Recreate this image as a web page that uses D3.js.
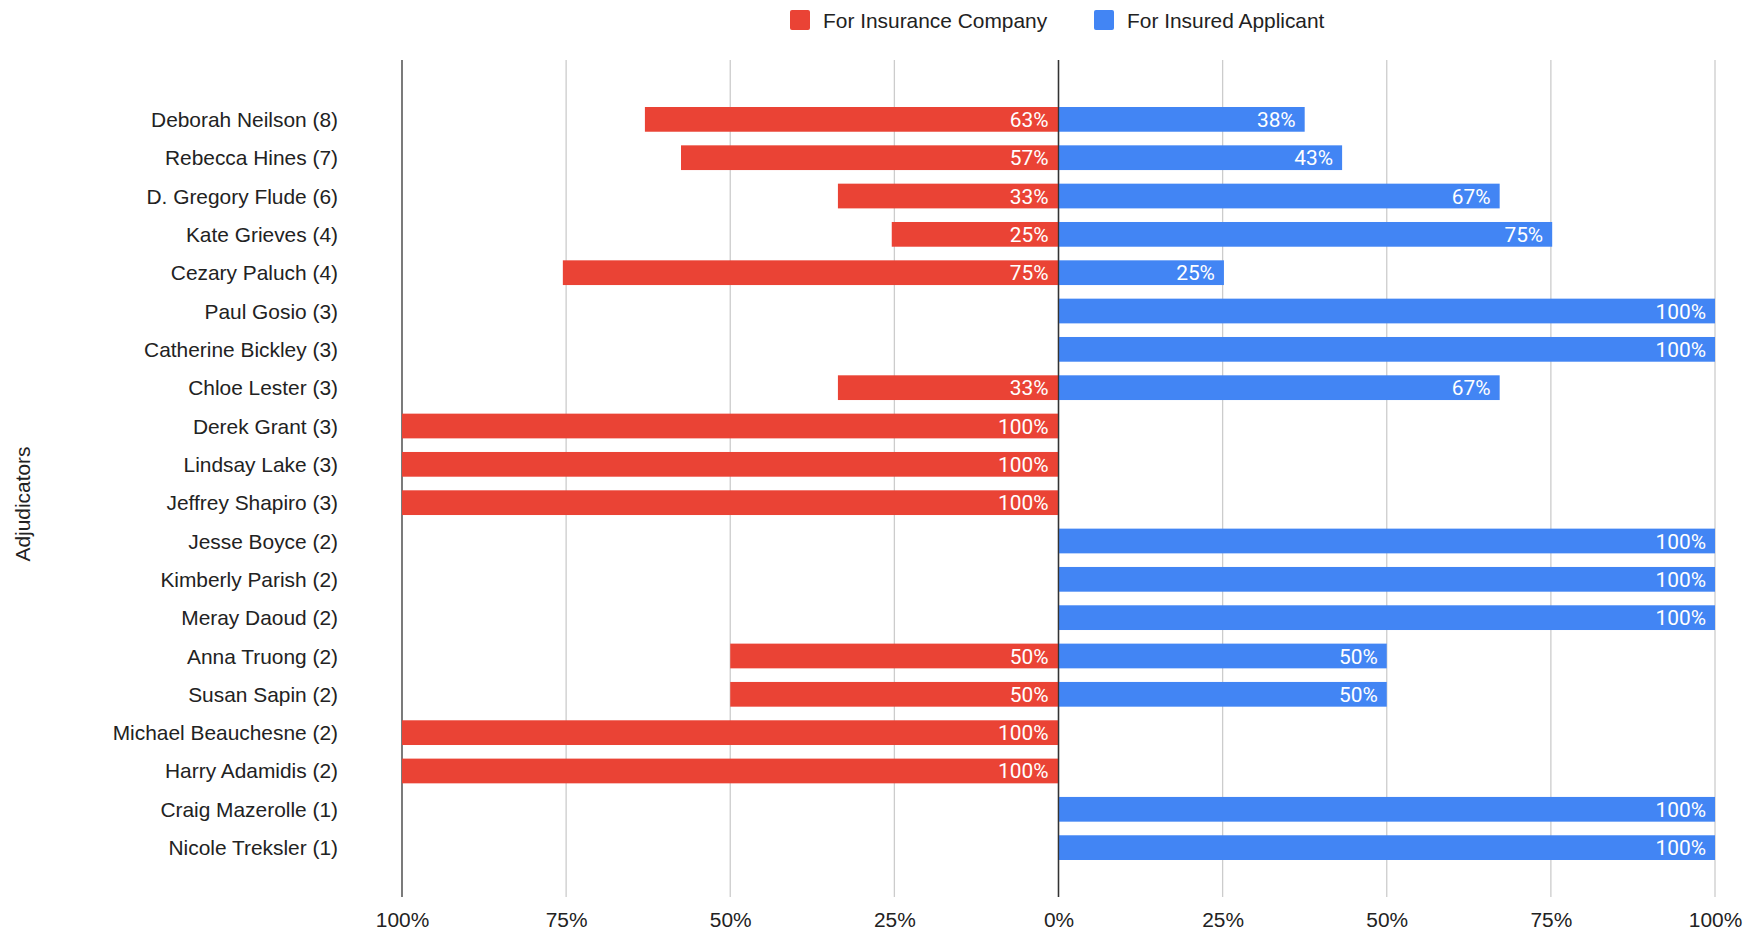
<!DOCTYPE html>
<html>
<head>
<meta charset="utf-8">
<script src="https://cdn.jsdelivr.net/npm/d3@7"></script>
<style>
  body { margin: 0; background: #fff; }
  svg { display: block; }
</style>
</head>
<body>
<svg id="chart" width="1759" height="933"></svg>
<script>
const adjudicators = ["Deborah Neilson (8)", "Rebecca Hines (7)", "D. Gregory Flude (6)", "Kate Grieves (4)",
  "Cezary Paluch (4)", "Paul Gosio (3)", "Catherine Bickley (3)", "Chloe Lester (3)", "Derek Grant (3)",
  "Lindsay Lake (3)", "Jeffrey Shapiro (3)", "Jesse Boyce (2)", "Kimberly Parish (2)", "Meray Daoud (2)",
  "Anna Truong (2)", "Susan Sapin (2)", "Michael Beauchesne (2)", "Harry Adamidis (2)",
  "Craig Mazerolle (1)", "Nicole Treksler (1)"];
// bar lengths
const forInsurer = [0.63, 0.575, 0.336, 0.254, 0.755, 0, 0, 0.336, 1, 1, 1, 0, 0, 0, 0.5, 0.5, 1, 1, 0, 0];
const forApplicant = [0.375, 0.432, 0.672, 0.752, 0.252, 1, 1, 0.672, 0, 0, 0, 1, 1, 1, 0.5, 0.5, 0, 0, 1, 1];
// value labels as printed on the bars
const insurerLabels = ["63%", "57%", "33%", "25%", "75%", "", "", "33%", "100%", "100%", "100%", "", "", "",
  "50%", "50%", "100%", "100%", "", ""];
const applicantLabels = ["38%", "43%", "67%", "75%", "25%", "100%", "100%", "67%", "", "", "", "100%", "100%",
  "100%", "50%", "50%", "", "", "100%", "100%"];
const tickValues = [-1, -0.75, -0.5, -0.25, 0, 0.25, 0.5, 0.75, 1];
const seriesNames = ["For Insurance Company", "For Insured Applicant"];
const colors = ["#EA4335", "#4285F4"];

const svg = d3.select("#chart");
const fontSize = "20.9px";
const textFont = "'Liberation Sans', Arial, sans-serif";

const x = d3.scaleLinear().domain([-1, 1]).range([402, 1715]);
const y = d3.scaleBand()
  .domain(adjudicators)
  .range([100.2, 866.8])
  .paddingInner(0.355)
  .paddingOuter(0.1775);

const gridTop = 60, gridBottom = 897;

// gridlines
svg.append("g")
  .selectAll("line")
  .data(tickValues)
  .join("line")
  .attr("x1", d => x(d))
  .attr("x2", d => x(d))
  .attr("y1", gridTop)
  .attr("y2", gridBottom)
  .attr("stroke", d => (d === -1 || d === 0) ? "#333" : "#cccccc")
  .attr("stroke-width", 1.3);

const data = adjudicators.map((name, i) => ({
  name, ins: forInsurer[i], app: forApplicant[i], insLabel: insurerLabels[i], appLabel: applicantLabels[i]
}));

// red bars (left)
svg.append("g")
  .selectAll("rect")
  .data(data.filter(d => d.ins > 0))
  .join("rect")
  .attr("x", d => x(-d.ins))
  .attr("y", d => y(d.name))
  .attr("width", d => x(0) - x(-d.ins))
  .attr("height", y.bandwidth())
  .attr("fill", colors[0]);

// blue bars (right)
svg.append("g")
  .selectAll("rect")
  .data(data.filter(d => d.app > 0))
  .join("rect")
  .attr("x", x(0))
  .attr("y", d => y(d.name))
  .attr("width", d => x(d.app) - x(0))
  .attr("height", y.bandwidth())
  .attr("fill", colors[1]);

// zero baseline on top of bars
svg.append("line")
  .attr("x1", x(0)).attr("x2", x(0))
  .attr("y1", gridTop).attr("y2", gridBottom)
  .attr("stroke", "#333")
  .attr("stroke-width", 1.3);

// value labels inside bars
const labelG = svg.append("g")
  .style("font-family", "Roboto, sans-serif")
  .style("font-size", fontSize)
  .attr("fill", "#fff")
  .attr("text-anchor", "end");

labelG.selectAll("text.ins")
  .data(data.filter(d => d.ins > 0))
  .join("text")
  .attr("class", "ins")
  .attr("x", x(0) - 10)
  .attr("y", d => y(d.name) + y.bandwidth() / 2)
  .attr("dy", "0.36em")
  .text(d => d.insLabel);

labelG.selectAll("text.app")
  .data(data.filter(d => d.app > 0))
  .join("text")
  .attr("class", "app")
  .attr("x", d => x(d.app) - 9)
  .attr("y", d => y(d.name) + y.bandwidth() / 2)
  .attr("dy", "0.36em")
  .text(d => d.appLabel);

// category labels
svg.append("g")
  .style("font-family", textFont)
  .style("font-size", fontSize)
  .attr("fill", "#222")
  .attr("text-anchor", "end")
  .selectAll("text")
  .data(adjudicators)
  .join("text")
  .attr("x", 338)
  .attr("y", d => y(d) + y.bandwidth() / 2)
  .attr("dy", "0.36em")
  .text(d => d);

// x axis tick labels
const xAxis = svg.append("g")
  .attr("transform", "translate(0,912)")
  .call(d3.axisBottom(x).tickValues(tickValues).tickSize(0).tickPadding(0)
    .tickFormat(d => Math.round(Math.abs(d) * 100) + "%"));
xAxis.select(".domain").remove();
xAxis.selectAll("text")
  .attr("dy", "0.73em")
  .attr("y", 0)
  .style("font-family", textFont)
  .style("font-size", fontSize)
  .attr("fill", "#222");

// y axis title
svg.append("text")
  .attr("transform", "translate(22,504) rotate(-90)")
  .attr("text-anchor", "middle")
  .attr("dominant-baseline", "central")
  .style("font-family", textFont)
  .style("font-size", fontSize)
  .attr("fill", "#222")
  .text("Adjudicators");

// legend
const legendX = [790, 1094];
const legend = svg.append("g")
  .selectAll("g")
  .data(seriesNames)
  .join("g")
  .attr("transform", (d, i) => `translate(${legendX[i]},10)`);
legend.append("rect")
  .attr("width", 20)
  .attr("height", 20)
  .attr("rx", 2)
  .attr("fill", (d, i) => colors[i]);
legend.append("text")
  .attr("x", 33)
  .attr("y", 10)
  .attr("dy", "0.36em")
  .style("font-family", textFont)
  .style("font-size", fontSize)
  .attr("fill", "#222")
  .text(d => d);
</script>
</body>
</html>
